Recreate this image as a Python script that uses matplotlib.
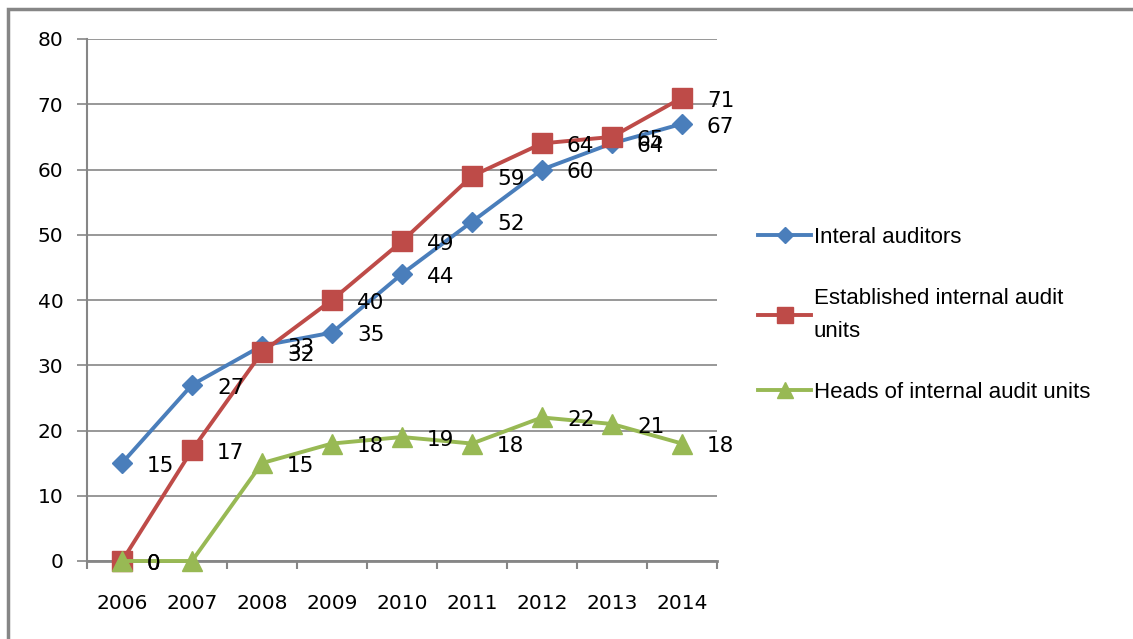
import matplotlib.pyplot as plt
from matplotlib.patches import Rectangle

plt.rcParams['font.family'] = ['DejaVu Sans']

years = ['2006', '2007', '2008', '2009', '2010', '2011', '2012', '2013', '2014']
internal_auditors = [15, 27, 33, 35, 44, 52, 60, 64, 67]
established_units = [0, 17, 32, 40, 49, 59, 64, 65, 71]
heads_of_units = [0, 0, 15, 18, 19, 18, 22, 21, 18]

series = [
  ('Interal auditors', internal_auditors, '#4A7EBB', 'D', 10),
  ('Established internal audit\nunits', established_units, '#BE4B48', 's', 14),
  ('Heads of internal audit units', heads_of_units, '#98B954', '^', 15),
]

fig = plt.figure(figsize=(11.33, 6.39), dpi=100)
ax = fig.add_axes([87/1133, 78/639, 630/1133, 522/639])

x = list(range(len(years)))
for i, (name, vals, col, mk, ms) in enumerate(series):
  ax.plot(x, vals, color=col, lw=2.8, marker=mk, markersize=ms,
          markeredgecolor=col, label=name, zorder=3 + i, clip_on=False)
  for xi, v in zip(x, vals):
    if name.startswith('Heads') and xi == 1:
      continue  # label hidden in the original
    ax.annotate(str(v), (xi, v), xytext=(18, -2), textcoords='offset points',
                ha='left', va='center', fontsize=15.5, color='black', zorder=10)

ax.set_xlim(-0.5, len(years) - 0.5)
ax.set_ylim(0, 80)
ax.set_yticks(range(0, 81, 10))
ax.set_xticks(x)
ax.set_xticklabels(years)
ax.set_xticks([i - 0.5 for i in range(len(years) + 1)], minor=True)
ax.tick_params(axis='x', which='major', length=0, pad=24, labelsize=14.5)
ax.tick_params(axis='x', which='minor', length=6, color='#868686', width=1.5, direction='out')
ax.tick_params(axis='y', length=7, color='#868686', width=1.2, pad=10, labelsize=14.5)
ax.grid(axis='y', color='#868686', lw=1.2)
ax.set_axisbelow(True)
for s in ['top', 'right']:
  ax.spines[s].set_visible(False)
ax.spines['left'].set_color('#868686')
ax.spines['bottom'].set_color('#868686')
ax.spines['left'].set_linewidth(1.5)
ax.spines['bottom'].set_linewidth(2)

leg = fig.legend(loc='center left', bbox_to_anchor=(738/1133, 0.507), frameon=False,
                 prop={'family': 'Liberation Sans', 'size': 16}, handlelength=2.4,
                 handletextpad=0.1, labelspacing=1.8, markerscale=0.8)
for t in leg.get_texts():
  t.set_linespacing(1.72)

fig.patches.append(Rectangle((8/1133, -0.1), 1.2, 1.1 - 9/639, transform=fig.transFigure,
                             fill=False, edgecolor='#868686', lw=2.5))

plt.savefig('out.png')
